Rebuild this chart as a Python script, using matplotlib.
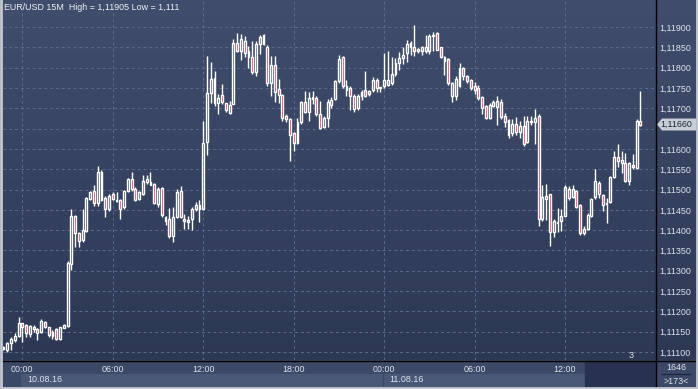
import numpy as np
import matplotlib.pyplot as plt
from matplotlib.patches import Rectangle, Polygon
from matplotlib.lines import Line2D

# EUR/USD 15M candles, first bar 09.08.16 22:45
opens = [1.11107, 1.11106, 1.11121, 1.11129, 1.11139, 1.11171, 1.11167, 1.11144, 1.11156, 1.11156,
         1.11150, 1.11175, 1.11161, 1.11140, 1.11156, 1.11131, 1.11160, 1.11164, 1.11316, 1.11435,
         1.11393, 1.11375, 1.11398, 1.11477, 1.11497, 1.11467, 1.11543, 1.11479, 1.11452, 1.11488,
         1.11472, 1.11473, 1.11456, 1.11497, 1.11526, 1.11501, 1.11477, 1.11490, 1.11526, 1.11518,
         1.11514, 1.11464, 1.11503, 1.11433, 1.11428, 1.11386, 1.11433, 1.11497, 1.11428, 1.11419,
         1.11428, 1.11453, 1.11463, 1.11453, 1.11617, 1.11737, 1.11775, 1.11712, 1.11732, 1.11712,
         1.11689, 1.11710, 1.11861, 1.11841, 1.11866, 1.11841, 1.11827, 1.11789, 1.11857, 1.11881,
         1.11852, 1.11761, 1.11807, 1.11747, 1.11732, 1.11681, 1.11673, 1.11638, 1.11614, 1.11666,
         1.11716, 1.11691, 1.11728, 1.11726, 1.11687, 1.11655, 1.11677, 1.11709, 1.11723, 1.11766,
         1.11826, 1.11754, 1.11750, 1.11731, 1.11701, 1.11729, 1.11746, 1.11735, 1.11744, 1.11770,
         1.11750, 1.11754, 1.11758, 1.11761, 1.11785, 1.11811, 1.11824, 1.11836, 1.11861, 1.11851,
         1.11846, 1.11840, 1.11840, 1.11840, 1.11879, 1.11885, 1.11851, 1.11826, 1.11821, 1.11729,
         1.11729, 1.11754, 1.11799, 1.11780, 1.11770, 1.11754, 1.11750, 1.11728, 1.11706, 1.11676,
         1.11705, 1.11703, 1.11715, 1.11682, 1.11672, 1.11638, 1.11662, 1.11641, 1.11657, 1.11616,
         1.11665, 1.11666, 1.11682, 1.11428, 1.11477, 1.11488, 1.11396, 1.11418, 1.11422, 1.11436,
         1.11502, 1.11482, 1.11496, 1.11463, 1.11392, 1.11402, 1.11434, 1.11482, 1.11516, 1.11486,
         1.11465, 1.11470, 1.11531, 1.11580, 1.11566, 1.11566, 1.11521, 1.11561, 1.11553, 1.11668]
highs = [1.11115, 1.11125, 1.11137, 1.11146, 1.11187, 1.11172, 1.11168, 1.11166, 1.11166, 1.11158,
         1.11181, 1.11177, 1.11162, 1.11154, 1.11158, 1.11162, 1.11170, 1.11323, 1.11452, 1.11437,
         1.11395, 1.11452, 1.11481, 1.11497, 1.11510, 1.11557, 1.11547, 1.11483, 1.11490, 1.11493,
         1.11493, 1.11476, 1.11499, 1.11528, 1.11543, 1.11505, 1.11497, 1.11536, 1.11536, 1.11543,
         1.11516, 1.11505, 1.11507, 1.11435, 1.11454, 1.11456, 1.11502, 1.11509, 1.11439, 1.11435,
         1.11458, 1.11470, 1.11474, 1.11669, 1.11829, 1.11814, 1.11792, 1.11734, 1.11759, 1.11714,
         1.11718, 1.11871, 1.11886, 1.11882, 1.11878, 1.11853, 1.11866, 1.11866, 1.11880, 1.11883,
         1.11855, 1.11829, 1.11829, 1.11771, 1.11734, 1.11685, 1.11675, 1.11642, 1.11677, 1.11718,
         1.11743, 1.11740, 1.11743, 1.11730, 1.11718, 1.11681, 1.11722, 1.11728, 1.11770, 1.11832,
         1.11828, 1.11770, 1.11754, 1.11734, 1.11734, 1.11746, 1.11791, 1.11746, 1.11777, 1.11775,
         1.11752, 1.11836, 1.11840, 1.11826, 1.11824, 1.11838, 1.11852, 1.11867, 1.11865, 1.11905,
         1.11848, 1.11854, 1.11881, 1.11884, 1.11887, 1.11887, 1.11852, 1.11829, 1.11824, 1.11764,
         1.11780, 1.11811, 1.11802, 1.11783, 1.11772, 1.11764, 1.11758, 1.11729, 1.11708, 1.11713,
         1.11720, 1.11731, 1.11723, 1.11688, 1.11674, 1.11674, 1.11679, 1.11668, 1.11682, 1.11680,
         1.11680, 1.11697, 1.11685, 1.11512, 1.11513, 1.11490, 1.11428, 1.11455, 1.11451, 1.11512,
         1.11508, 1.11510, 1.11500, 1.11465, 1.11411, 1.11442, 1.11480, 1.11550, 1.11520, 1.11488,
         1.11480, 1.11534, 1.11594, 1.11613, 1.11594, 1.11590, 1.11568, 1.11588, 1.11674, 1.11742]
lows = [1.11104, 1.11100, 1.11106, 1.11125, 1.11137, 1.11125, 1.11137, 1.11136, 1.11150, 1.11129,
        1.11146, 1.11158, 1.11137, 1.11133, 1.11129, 1.11129, 1.11158, 1.11162, 1.11303, 1.11358,
        1.11358, 1.11370, 1.11396, 1.11474, 1.11460, 1.11460, 1.11471, 1.11433, 1.11448, 1.11473,
        1.11469, 1.11427, 1.11452, 1.11495, 1.11497, 1.11471, 1.11473, 1.11487, 1.11514, 1.11510,
        1.11464, 1.11458, 1.11432, 1.11412, 1.11380, 1.11371, 1.11431, 1.11431, 1.11402, 1.11402,
        1.11401, 1.11447, 1.11419, 1.11451, 1.11584, 1.11714, 1.11706, 1.11685, 1.11710, 1.11691,
        1.11685, 1.11710, 1.11838, 1.11820, 1.11827, 1.11800, 1.11784, 1.11779, 1.11833, 1.11855,
        1.11755, 1.11730, 1.11716, 1.11712, 1.11669, 1.11665, 1.11570, 1.11595, 1.11611, 1.11661,
        1.11689, 1.11669, 1.11710, 1.11681, 1.11650, 1.11651, 1.11655, 1.11701, 1.11720, 1.11762,
        1.11750, 1.11731, 1.11695, 1.11690, 1.11695, 1.11721, 1.11728, 1.11729, 1.11739, 1.11739,
        1.11739, 1.11750, 1.11754, 1.11758, 1.11779, 1.11795, 1.11810, 1.11815, 1.11832, 1.11828,
        1.11836, 1.11832, 1.11836, 1.11834, 1.11840, 1.11843, 1.11824, 1.11783, 1.11758, 1.11715,
        1.11721, 1.11752, 1.11770, 1.11761, 1.11744, 1.11734, 1.11721, 1.11687, 1.11674, 1.11674,
        1.11703, 1.11659, 1.11674, 1.11654, 1.11627, 1.11631, 1.11635, 1.11626, 1.11606, 1.11615,
        1.11660, 1.11613, 1.11411, 1.11422, 1.11425, 1.11360, 1.11382, 1.11396, 1.11398, 1.11434,
        1.11475, 1.11480, 1.11455, 1.11389, 1.11387, 1.11400, 1.11433, 1.11477, 1.11479, 1.11447,
        1.11418, 1.11468, 1.11529, 1.11556, 1.11541, 1.11518, 1.11510, 1.11551, 1.11551, 1.11656]
closes = [1.11112, 1.11122, 1.11131, 1.11140, 1.11171, 1.11161, 1.11146, 1.11164, 1.11162, 1.11146,
          1.11177, 1.11162, 1.11141, 1.11150, 1.11131, 1.11161, 1.11166, 1.11318, 1.11435, 1.11393,
          1.11373, 1.11400, 1.11478, 1.11493, 1.11466, 1.11543, 1.11473, 1.11452, 1.11483, 1.11477,
          1.11474, 1.11452, 1.11497, 1.11526, 1.11501, 1.11473, 1.11493, 1.11522, 1.11518, 1.11512,
          1.11466, 1.11501, 1.11437, 1.11423, 1.11386, 1.11433, 1.11494, 1.11433, 1.11423, 1.11424,
          1.11453, 1.11463, 1.11453, 1.11614, 1.11737, 1.11771, 1.11712, 1.11726, 1.11715, 1.11696,
          1.11707, 1.11861, 1.11841, 1.11871, 1.11837, 1.11827, 1.11789, 1.11857, 1.11876, 1.11857,
          1.11761, 1.11807, 1.11740, 1.11732, 1.11677, 1.11673, 1.11634, 1.11614, 1.11666, 1.11716,
          1.11691, 1.11726, 1.11724, 1.11687, 1.11652, 1.11677, 1.11716, 1.11721, 1.11766, 1.11821,
          1.11754, 1.11744, 1.11729, 1.11697, 1.11729, 1.11739, 1.11729, 1.11742, 1.11770, 1.11750,
          1.11752, 1.11769, 1.11770, 1.11785, 1.11811, 1.11824, 1.11832, 1.11857, 1.11851, 1.11840,
          1.11840, 1.11851, 1.11852, 1.11877, 1.11881, 1.11844, 1.11826, 1.11816, 1.11762, 1.11761,
          1.11772, 1.11799, 1.11779, 1.11766, 1.11750, 1.11746, 1.11725, 1.11701, 1.11676, 1.11709,
          1.11715, 1.11717, 1.11679, 1.11666, 1.11633, 1.11662, 1.11641, 1.11656, 1.11613, 1.11668,
          1.11668, 1.11676, 1.11428, 1.11482, 1.11485, 1.11396, 1.11422, 1.11420, 1.11434, 1.11506,
          1.11480, 1.11502, 1.11457, 1.11392, 1.11403, 1.11438, 1.11477, 1.11520, 1.11488, 1.11463,
          1.11468, 1.11531, 1.11580, 1.11570, 1.11572, 1.11521, 1.11566, 1.11556, 1.11668, 1.11660]

first_bar = -5  # bars before 10.08 00:00
time_ticks = [0, 24, 48, 72, 96, 120, 144]
time_labels = ["00:00", "06:00", "12:00", "18:00", "00:00", "06:00", "12:00"]
date_ticks = [0, 96]
date_labels = ["10.08.16", "11.08.16"]
price_ticks = [1.111, 1.1115, 1.112, 1.1125, 1.113, 1.1135, 1.114, 1.1145, 1.115,
               1.1155, 1.116, 1.1165, 1.117, 1.1175, 1.118, 1.1185, 1.119]

W, H = 698, 389
FONT = "Liberation Sans"
TXT = "#dde3ee"


def fx(x):
    return x / W


def fy(y):
    return 1 - y / H


fig = plt.figure(figsize=(W / 100, H / 100), dpi=100)

# background gradient for the chart + price scale
bg = fig.add_axes([0, 0, 1, 1])
bg.set_axis_off()
grad = np.linspace(0, 1, 256).reshape(-1, 1)
top = np.array([0x40, 0x4d, 0x6c]) / 255
bot = np.array([0x2c, 0x38, 0x54]) / 255
img = top + (bot - top) * grad[:, :, None]
bg.imshow(img, extent=(0, 1, fy(360), 1), aspect="auto", transform=bg.transAxes)
bg.set_xlim(0, 1)
bg.set_ylim(0, 1)

# bottom time/date bands
bg.add_patch(Rectangle((0, 0), 1, fy(360), color="#3b4866", transform=bg.transAxes))
bg.add_patch(Rectangle((fx(21), fy(386)), fx(585 - 21), fy(374) - fy(386),
                       color="#4a5877", transform=bg.transAxes))
bg.add_patch(Rectangle((fx(585), fy(387)), fx(655 - 585), fy(361) - fy(387),
                       color="#273250", transform=bg.transAxes))

ax = fig.add_axes([fx(3), fy(360), fx(655.5 - 3), 1 - fy(360)])
ax.patch.set_alpha(0)
for s in ax.spines.values():
    s.set_visible(False)

x = np.arange(len(opens)) + first_bar
o = np.array(opens)
h = np.array(highs)
l = np.array(lows)
c = np.array(closes)
up = c >= o
lo = np.minimum(o, c)
hi = np.maximum(o, c)

ax.vlines(x, hi, h, color="white", lw=1, zorder=3)
ax.vlines(x, l, lo, color="white", lw=1, zorder=3)
ax.bar(x[up], (hi - lo)[up], bottom=lo[up], width=0.5, facecolor="none",
       edgecolor="white", linewidth=1, zorder=3)
ax.bar(x[~up], (hi - lo)[~up], bottom=lo[~up], width=0.5, facecolor="#e0103c",
       edgecolor="white", linewidth=1, zorder=3)

ax.set_xlim(-5.13, 168.0)
ax.set_ylim(1.110803, 1.119665)

# the price tag hides the label next to the last close
last = closes[-1]
ax.set_yticks(price_ticks)
ax.set_yticklabels(["" if abs(p - last) < 0.00025 else f"{p:.5f}".replace(".", ",")
                    for p in price_ticks])
ax.yaxis.tick_right()
ax.set_xticks(time_ticks)
ax.set_xticklabels(time_labels)
ax.tick_params(length=0, labelsize=6.4, colors=TXT)
ax.tick_params(axis="y", pad=3)
ax.tick_params(axis="x", pad=3.5)
for t in ax.get_xticklabels() + ax.get_yticklabels():
    t.set_fontfamily(FONT)
ax.grid(color="#5d6c8c", linestyle=(0, (3, 3)), linewidth=0.7, zorder=0)

# separators and frame
fig.add_artist(Line2D([fx(655.5)] * 2, [0, 1], color="black", lw=1))
fig.add_artist(Line2D([0, 1], [fy(360.5)] * 2, color="black", lw=1))
fig.add_artist(Line2D([fx(383)] * 2, [fy(386), fy(374)], color="#3b4866", lw=1))
fig.add_artist(Line2D([fx(1)] * 2, [0, 1], color="#c4c8d0", lw=2))
fig.add_artist(Line2D([fx(697)] * 2, [0, 1], color="#c4c8d0", lw=2))
fig.add_artist(Line2D([0, 1], [fy(388)] * 2, color="#c4c8d0", lw=2))

# date labels
for d, lab in zip(date_ticks, date_labels):
    xp = ax.transData.transform((d, 0))[0] / W
    fig.text(xp + fx(5), fy(380), lab, fontsize=6.4, color=TXT, family=FONT, va="center")

fig.text(fx(4), fy(8), "EUR/USD 15M  High = 1,11905 Low = 1,111", fontsize=6.4,
         color="#eef1f7", family=FONT, va="center")

# bar count box
fig.text(fx(676), fy(367), "1646", fontsize=6.4, color=TXT, family=FONT, ha="center", va="center")
fig.add_artist(Line2D([fx(662), fx(690)], [fy(374)] * 2, color="#1e2740", lw=1))
fig.text(fx(676), fy(381), ">173<", fontsize=6.4, color=TXT, family=FONT, ha="center", va="center")

fig.text(fx(631), fy(355), "3", fontsize=6.4, color=TXT, family=FONT, ha="center", va="center")

# current price tag
yp = H - ax.transData.transform((0, last))[1]
tag = Polygon([(fx(657), fy(yp)), (fx(662), fy(yp - 6)), (fx(696), fy(yp - 6)),
               (fx(696), fy(yp + 6)), (fx(662), fy(yp + 6))],
              closed=True, facecolor="#c9cdd5", edgecolor="none", transform=fig.transFigure)
fig.add_artist(tag)
fig.text(fx(660), fy(yp), f"{last:.5f}".replace(".", ","), fontsize=6.4,
         color="#1c2336", family=FONT, va="center")

fig.savefig("out.png", dpi=100)
